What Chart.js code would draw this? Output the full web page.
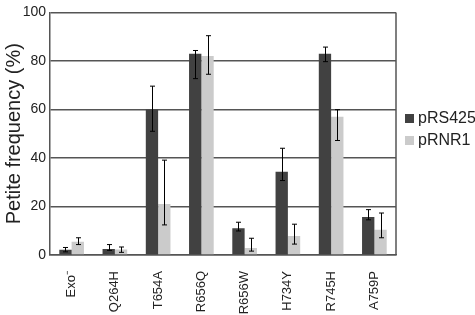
<!DOCTYPE html>
<html><head><meta charset="utf-8">
<script src="https://cdn.jsdelivr.net/npm/chart.js@4/dist/chart.umd.min.js"></script>
<style>html,body{margin:0;padding:0;background:#fff}#w{width:475px;height:315px}</style>
</head><body><div id="w"><canvas id="c"></canvas></div>
<script>
const categories = ["Exo\u207B","Q264H","T654A","R656Q","R656W","H734Y","R745H","A759P"];
const seriesNames = ["pRS425","pRNR1"];
const pRS425 = [2.2, 2.5, 60, 83, 11, 34.3, 83, 15.7];
const pRS425Low = [1.3, 1.9, 51, 72.7, 9.9, 30.7, 79.7, 14.5];
const pRS425High = [3.1, 4.3, 69.6, 84.3, 13.5, 44, 85.7, 18.7];
const pRNR1 = [5.5, 2.3, 21, 82, 2.9, 7.8, 57, 10.4];
const pRNR1Low = [4.3, 1.1, 12.4, 74.5, 1.6, 4.5, 47.2, 7.1];
const pRNR1High = [7.1, 3.3, 39.1, 90.4, 6.9, 12.7, 59.9, 17.3];
const yTicks = [0, 20, 40, 60, 80, 100];
const colors = ["#414141", "#cbcbcb"];

const lows = [pRS425Low, pRNR1Low], highs = [pRS425High, pRNR1High];
const FONT = '"Liberation Sans", Arial, sans-serif';
const errPlugin = {
  id: 'err',
  afterDatasetsDraw(chart) {
    const ctx = chart.ctx, y = chart.scales.y;
    ctx.save();
    ctx.strokeStyle = '#000'; ctx.lineWidth = 1;
    chart.data.datasets.forEach((ds, di) => {
      const meta = chart.getDatasetMeta(di);
      meta.data.forEach((bar, i) => {
        const x = Math.round(bar.x) + 0.5;
        const y1 = y.getPixelForValue(lows[di][i]), y2 = y.getPixelForValue(highs[di][i]);
        ctx.beginPath();
        ctx.moveTo(x, y1); ctx.lineTo(x, y2);
        ctx.moveTo(x - 2.5, y1); ctx.lineTo(x + 2.5, y1);
        ctx.moveTo(x - 2.5, y2); ctx.lineTo(x + 2.5, y2);
        ctx.stroke();
      });
    });
    ctx.restore();
  }
};
const framePlugin = {
  id: 'frame',
  afterDraw(chart) {
    const ctx = chart.ctx, a = chart.chartArea;
    ctx.save();
    ctx.strokeStyle = '#555'; ctx.lineWidth = 1.5;
    ctx.beginPath(); ctx.moveTo(a.right, a.top); ctx.lineTo(a.right, a.bottom); ctx.stroke();
    ctx.font = '16px ' + FONT;
    ctx.textBaseline = 'middle'; ctx.textAlign = 'left';
    seriesNames.forEach((n, i) => {
      const cy = 118 + i * 22;
      ctx.fillStyle = colors[i];
      ctx.fillRect(405, cy - 4, 9, 9);
      ctx.fillStyle = '#222';
      ctx.fillText(n, 418, cy + 1);
    });
    ctx.restore();
  }
};

new Chart(document.getElementById('c'), {
  type: 'bar',
  data: {
    labels: categories,
    datasets: [
      { label: seriesNames[0], data: pRS425, backgroundColor: colors[0] },
      { label: seriesNames[1], data: pRNR1, backgroundColor: colors[1] }
    ]
  },
  options: {
    responsive: true, maintainAspectRatio: false, animation: false,
    devicePixelRatio: 1,
    layout: { padding: { left: 0, right: 79, top: 5, bottom: 0 } },
    plugins: { legend: { display: false }, tooltip: { enabled: false } },
    datasets: { bar: { categoryPercentage: 0.57, barPercentage: 1.0 } },
    scales: {
      x: {
        grid: { display: false },
        border: { display: true, color: '#555', width: 1.5 },
        ticks: { maxRotation: 90, minRotation: 90, color: '#222', padding: 8,
          font: { family: FONT, size: 13 } },
        afterFit(s) { s.height = 60; }
      },
      y: {
        min: 0, max: 100,
        afterBuildTicks(s) { s.ticks = yTicks.map(v => ({ value: v })); },
        grid: { color: '#555', lineWidth: 1.5, drawTicks: false },
        border: { display: true, color: '#555', width: 1.5 },
        ticks: { color: '#222', padding: 4,
          font: { family: FONT, size: 14 } },
        title: { display: true, text: 'Petite frequency (%)', color: '#222', padding: { top: 2, bottom: 0 },
          font: { family: FONT, size: 20 } },
        afterFit(s) { s.width = 50; }
      }
    }
  },
  plugins: [errPlugin, framePlugin]
});
</script>
</body></html>
